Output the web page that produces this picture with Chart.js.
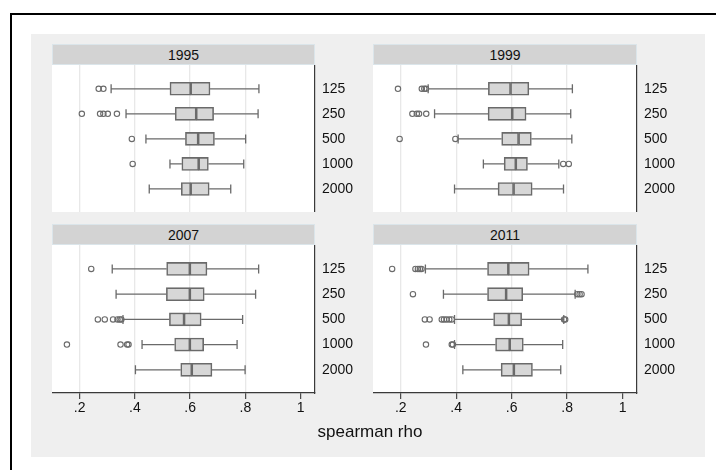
<!DOCTYPE html>
<html>
<head>
<meta charset="utf-8">
<script src="https://cdn.jsdelivr.net/npm/chart.js@4.4.0/dist/chart.umd.min.js"></script>
<style>
  html, body { margin: 0; padding: 0; width: 716px; height: 470px; overflow: hidden; background: #fff;
    font-family: "Liberation Sans", Arial, Helvetica, sans-serif; }
  #frame { position: absolute; left: 10px; top: 13px; width: 800px; height: 600px; border: 2px solid #000; background: #fff; }
  #region { position: absolute; left: 31px; top: 34px; width: 674px; height: 423px; background: #efefef; }
  .strip { position: absolute; width: 263px; height: 21px; line-height: 21px; background: #d3d3d3;
    border: 1px solid #dbe5ea; box-sizing: border-box; text-align: center; font-size: 14px; color: #111; }
  canvas { position: absolute; }
  #xtitle { position: absolute; left: 300px; width: 140px; top: 422px; line-height: 20px; text-align: center;
    font-size: 17px; color: #111; }
</style>
</head>
<body>
<div id="frame"></div>
<div id="region"></div>

<div class="strip" style="left:52px; top:44px;">1995</div>
<div class="strip" style="left:373px; top:44px; width:264px;">1999</div>
<div class="strip" style="left:52px; top:224px;">2007</div>
<div class="strip" style="left:373px; top:224px; width:264px;">2011</div>

<canvas id="p0" width="323" height="147" style="left:52px; top:65px;"></canvas>
<canvas id="p1" width="324" height="147" style="left:373px; top:65px;"></canvas>
<canvas id="p2" width="323" height="193" style="left:52px; top:245px;"></canvas>
<canvas id="p3" width="324" height="193" style="left:373px; top:245px;"></canvas>

<div id="xtitle">spearman rho</div>

<script>
// Sample sizes shown on the category axis, and the survey years (one panel each)
const sizes = ['125', '250', '500', '1000', '2000'];
const years = ['1995', '1999', '2007', '2011'];

// Value-axis ticks
const xTickValues = [0.2, 0.4, 0.6, 0.8, 1];
const xTickLabels = ['.2', '.4', '.6', '.8', '1'];

// Box-plot summaries per year (rows) and sample size (columns)
const whiskerLow = [
  [0.314, 0.368, 0.440, 0.527, 0.452],
  [0.299, 0.322, 0.407, 0.498, 0.394],
  [0.318, 0.332, 0.357, 0.426, 0.402],
  [0.289, 0.354, 0.394, 0.394, 0.424]
];
const lowerQuartile = [
  [0.527, 0.546, 0.583, 0.570, 0.568],
  [0.516, 0.515, 0.564, 0.573, 0.551],
  [0.515, 0.514, 0.525, 0.544, 0.566],
  [0.513, 0.513, 0.535, 0.542, 0.562]
];
const median = [
  [0.602, 0.622, 0.629, 0.631, 0.602],
  [0.596, 0.602, 0.625, 0.615, 0.607],
  [0.599, 0.599, 0.578, 0.599, 0.606],
  [0.588, 0.580, 0.590, 0.593, 0.608]
];
const upperQuartile = [
  [0.672, 0.685, 0.688, 0.666, 0.669],
  [0.662, 0.652, 0.671, 0.657, 0.674],
  [0.661, 0.651, 0.640, 0.649, 0.679],
  [0.663, 0.640, 0.636, 0.642, 0.675]
];
const whiskerHigh = [
  [0.849, 0.846, 0.801, 0.794, 0.747],
  [0.819, 0.813, 0.817, 0.770, 0.787],
  [0.848, 0.837, 0.790, 0.770, 0.799],
  [0.875, 0.829, 0.788, 0.784, 0.777]
];
const outliers = [
  [[0.269, 0.286], [0.208, 0.274, 0.286, 0.302, 0.335], [0.389], [0.392], []],
  [[0.190, 0.276, 0.285, 0.291], [0.242, 0.258, 0.266, 0.292], [0.196, 0.397], [0.786, 0.806], []],
  [[0.242], [], [0.266, 0.291, 0.321, 0.337, 0.345, 0.351], [0.154, 0.348, 0.372, 0.377], []],
  [[0.169, 0.253, 0.262, 0.269, 0.275], [0.244, 0.837, 0.845, 0.852],
   [0.287, 0.304, 0.348, 0.356, 0.365, 0.375, 0.384, 0.789, 0.793], [0.291, 0.384, 0.388], []]
];

const lineGrey = '#6a6a6a';
const boxFill = '#d7d7d7';
const axisColor = '#3a3a3a';

Chart.defaults.font.family = '"Liberation Sans", Arial, Helvetica, sans-serif';
Chart.defaults.font.size = 14;
Chart.defaults.color = '#111';

// White plot region behind the marks
const plotBackground = {
  id: 'plotBackground',
  beforeDraw(chart) {
    const { ctx, chartArea: a } = chart;
    ctx.save();
    ctx.fillStyle = '#fff';
    ctx.fillRect(a.left, a.top, a.right - a.left, a.bottom - a.top);
    ctx.restore();
  }
};

// Whisker lines and end caps, positioned through the chart scales
const whiskers = {
  id: 'whiskers',
  beforeDatasetsDraw(chart, args, opts) {
    const k = opts.panel;
    const { ctx, scales: { x, y } } = chart;
    ctx.save();
    ctx.strokeStyle = lineGrey;
    ctx.lineWidth = 1.3;
    sizes.forEach((s, i) => {
      const py = y.getPixelForValue(i);
      const lo = x.getPixelForValue(whiskerLow[k][i]);
      const q1 = x.getPixelForValue(lowerQuartile[k][i]);
      const q3 = x.getPixelForValue(upperQuartile[k][i]);
      const hi = x.getPixelForValue(whiskerHigh[k][i]);
      ctx.beginPath();
      ctx.moveTo(lo, py); ctx.lineTo(q1, py);
      ctx.moveTo(q3, py); ctx.lineTo(hi, py);
      ctx.moveTo(lo, py - 4.5); ctx.lineTo(lo, py + 4.5);
      ctx.moveTo(hi, py - 4.5); ctx.lineTo(hi, py + 4.5);
      ctx.stroke();
    });
    ctx.restore();
  }
};

// Keep the plot region flush with the canvas edges
function noPadding(a) {
  a.paddingTop = 0; a.paddingBottom = 0; a.paddingLeft = 0; a.paddingRight = 0;
}

function buildPanel(k, canvasId, showX) {
  const lowHalf = sizes.map((s, i) => ({ y: i, x: [lowerQuartile[k][i], median[k][i]] }));
  const highHalf = sizes.map((s, i) => ({ y: i, x: [median[k][i], upperQuartile[k][i]] }));
  const points = [];
  outliers[k].forEach((list, i) => list.forEach(v => points.push({ x: v, y: i })));

  const boxStyle = {
    backgroundColor: boxFill,
    borderColor: lineGrey,
    borderWidth: 1.6,
    borderSkipped: false,
    barThickness: 13,
    grouped: false
  };

  return new Chart(document.getElementById(canvasId), {
    type: 'bar',
    data: {
      datasets: [
        { label: years[k] + ' lower', data: lowHalf, ...boxStyle },
        { label: years[k] + ' upper', data: highHalf, ...boxStyle },
        {
          type: 'scatter', label: years[k] + ' outside values', data: points,
          pointRadius: 2.7, pointBorderWidth: 1.1, borderColor: lineGrey,
          pointBorderColor: lineGrey, backgroundColor: 'rgba(0,0,0,0)', pointBackgroundColor: 'rgba(0,0,0,0)'
        }
      ]
    },
    options: {
      indexAxis: 'y',
      responsive: false,
      animation: false,
      events: [],
      layout: { padding: 0, autoPadding: false },
      plugins: {
        legend: { display: false },
        tooltip: { enabled: false },
        whiskers: { panel: k }
      },
      scales: {
        x: {
          type: 'linear', min: 0.1, max: 1.052, offset: false,
          afterBuildTicks: a => { a.ticks = xTickValues.map(v => ({ value: v })); },
          afterFit: a => { a.height = showX ? 45 : 0; noPadding(a); },
          ticks: {
            display: showX, padding: 1, color: '#111',
            callback: (v, i) => xTickLabels[i]
          },
          grid: {
            offset: false,
            color: c => (c.tick && c.tick.value === 1) ? 'rgba(0,0,0,0)' : '#e8e8e8',
            lineWidth: 1.3,
            drawTicks: showX, tickLength: 6, tickColor: axisColor, tickWidth: 1.1
          },
          border: { display: showX, color: axisColor, width: 1.2 }
        },
        y: {
          type: 'linear', position: 'right', reverse: true, min: -0.95, max: 4.92, offset: false,
          afterBuildTicks: a => { a.ticks = sizes.map((s, i) => ({ value: i })); },
          afterFit: a => { a.width = 60; noPadding(a); },
          ticks: { padding: 7, color: '#111', callback: v => sizes[v] },
          grid: { display: false, drawTicks: false, offset: false },
          border: { display: true, color: axisColor, width: 1.2 }
        }
      }
    },
    plugins: [plotBackground, whiskers]
  });
}

buildPanel(0, 'p0', false);
buildPanel(1, 'p1', false);
buildPanel(2, 'p2', true);
buildPanel(3, 'p3', true);
</script>
</body>
</html>
